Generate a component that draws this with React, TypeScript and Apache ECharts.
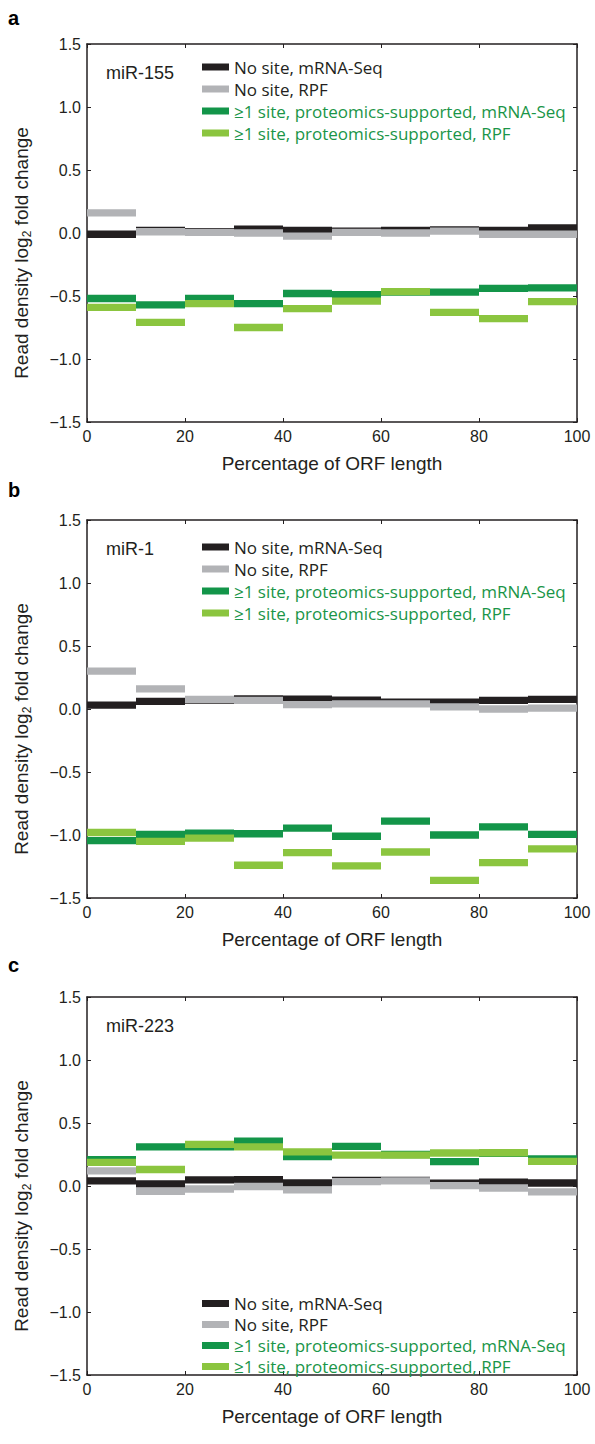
import React, { useEffect, useRef } from "react";
import * as echarts from "echarts";

// ---- data ----
const binStarts = [0, 10, 20, 30, 40, 50, 60, 70, 80, 90];
const binWidth = 10;
const seriesNames = [
  "No site, mRNA-Seq",
  "No site, RPF",
  "≥1 site, proteomics-supported, mRNA-Seq",
  "≥1 site, proteomics-supported, RPF",
];
const panelLetters = ["a", "b", "c"];
const panelMirnas = ["miR-155", "miR-1", "miR-223"];

const aNoSiteMrna = [-0.01, 0.02, 0.01, 0.03, 0.02, 0.015, 0.02, 0.025, 0.02, 0.04];
const aNoSiteRpf = [0.16, 0.01, 0.005, 0.0, -0.025, 0.005, 0.0, 0.015, -0.01, -0.01];
const aSiteMrna = [-0.52, -0.57, -0.52, -0.56, -0.48, -0.49, -0.47, -0.47, -0.44, -0.435];
const aSiteRpf = [-0.59, -0.71, -0.56, -0.75, -0.6, -0.54, -0.465, -0.63, -0.68, -0.545];

const bNoSiteMrna = [0.03, 0.06, 0.07, 0.08, 0.078, 0.07, 0.055, 0.055, 0.068, 0.076];
const bNoSiteRpf = [0.3, 0.16, 0.077, 0.068, 0.035, 0.04, 0.04, 0.017, 0.0, 0.007];
const bSiteMrna = [-1.045, -0.995, -0.985, -0.99, -0.945, -1.01, -0.89, -1.0, -0.935, -0.995];
const bSiteRpf = [-0.98, -1.05, -1.025, -1.24, -1.14, -1.245, -1.135, -1.36, -1.22, -1.11];

const cNoSiteMrna = [0.04, 0.017, 0.048, 0.05, 0.024, 0.045, 0.045, 0.022, 0.03, 0.024];
const cNoSiteRpf = [0.12, -0.043, -0.024, -0.004, -0.03, 0.035, 0.04, 0.003, -0.016, -0.047];
const cSiteMrna = [0.21, 0.31, 0.31, 0.356, 0.233, 0.314, 0.25, 0.194, 0.26, 0.215];
const cSiteRpf = [0.187, 0.131, 0.331, 0.31, 0.271, 0.245, 0.245, 0.262, 0.264, 0.196];

const panelData = [
  [aNoSiteMrna, aNoSiteRpf, aSiteMrna, aSiteRpf],
  [bNoSiteMrna, bNoSiteRpf, bSiteMrna, bSiteRpf],
  [cNoSiteMrna, cNoSiteRpf, cSiteMrna, cSiteRpf],
];

// ---- style ----
const colors = ["#231f20", "#b2b3b6", "#139549", "#8bc53f"];
const legendTextColors = ["#231f20", "#231f20", "#1a9548", "#1a9548"];
const axisColor = "#231f20";
const sans = "'Liberation Sans', Arial, sans-serif";
const legendFont = "'Open Sans', sans-serif";

const W = 595;
const H = 1444;
const gridLeft = 87;
const gridRight = 18;
const gridHeight = 378;
const gridTops = [44, 520, 997];
const legendTops = [58.5, 538.5, 1295];
const legendGaps = [5, 5, 4];
const letterTops = [8, 480, 955];
const yTitleOffset = 20;
const barThickness = 7.3;

function fmtY(v: number) {
  if (Math.abs(v) < 1e-9) return "0.0";
  return v < 0 ? "\u2212" + Math.abs(v).toFixed(1) : v.toFixed(1);
}

function buildOption() {
  const grid: any[] = [];
  const xAxis: any[] = [];
  const yAxis: any[] = [];
  const series: any[] = [];
  const legend: any[] = [];
  const graphic: any[] = [];

  gridTops.forEach((top, p) => {
    grid.push({ left: gridLeft, right: gridRight, top, height: gridHeight, containLabel: false });
    const common = {
      gridIndex: p,
      min: 0,
      max: 100,
      interval: 20,
      axisLine: { show: true, onZero: false, lineStyle: { color: axisColor, width: 1.5 } },
      axisTick: { show: true, inside: true, length: 4, lineStyle: { color: axisColor, width: 1 } },
      splitLine: { show: false },
    };
    xAxis.push({
      ...common,
      type: "value",
      position: "bottom",
      axisLabel: { show: true, fontFamily: sans, fontSize: 16, color: axisColor, margin: 6 },
      name: "Percentage of ORF length",
      nameLocation: "middle",
      nameGap: 32,
      nameTextStyle: { fontFamily: sans, fontSize: 19, color: axisColor },
    });
    xAxis.push({ ...common, type: "value", position: "top", axisLabel: { show: false } });
    const ycommon = {
      gridIndex: p,
      type: "value",
      min: -1.5,
      max: 1.5,
      interval: 0.5,
      axisLine: { show: true, onZero: false, lineStyle: { color: axisColor, width: 1.5 } },
      axisTick: { show: true, inside: true, length: 4, lineStyle: { color: axisColor, width: 1 } },
      splitLine: { show: false },
    };
    yAxis.push({
      ...ycommon,
      position: "left",
      axisLabel: { show: true, fontFamily: sans, fontSize: 16, color: axisColor, margin: 6, formatter: fmtY },
    });
    yAxis.push({ ...ycommon, position: "right", axisLabel: { show: false } });

    panelData[p].forEach((vals, s) => {
      series.push({
        type: "custom",
        name: seriesNames[s],
        xAxisIndex: p * 2,
        yAxisIndex: p * 2,
        itemStyle: { color: colors[s] },
        encode: { x: [0, 1], y: 2 },
        data: binStarts.map((x0, i) => [x0, x0 + binWidth, vals[i]]),
        renderItem: (params: any, api: any) => {
          const a = api.coord([api.value(0), api.value(2)]);
          const b = api.coord([api.value(1), api.value(2)]);
          return {
            type: "rect",
            shape: { x: a[0], y: a[1] - barThickness / 2, width: b[0] - a[0], height: barThickness },
            style: { fill: colors[s] },
          };
        },
        z: 2 + s,
      });
    });

    legend.push({
      orient: "vertical",
      left: 202,
      top: legendTops[p],
      padding: 0,
      itemGap: legendGaps[p],
      itemWidth: 27,
      itemHeight: 7,
      icon: "rect",
      selectedMode: false,
      textStyle: { fontFamily: legendFont, fontSize: 17, lineHeight: 16 },
      data: seriesNames.map((n, i) => ({ name: n, textStyle: { color: legendTextColors[i] } })),
    });

    graphic.push({
      type: "text",
      left: 8,
      top: letterTops[p],
      style: { text: panelLetters[p], font: `bold 20px ${sans}`, fill: "#000" },
    });
    graphic.push({
      type: "text",
      left: 106,
      top: top + 20,
      style: { text: panelMirnas[p], font: `18px ${sans}`, fill: axisColor },
    });
    graphic.push({
      type: "text",
      x: 21,
      y: top + gridHeight / 2 + yTitleOffset,
      rotation: Math.PI / 2,
      style: {
        text: "{a|Read density log}{s|2}{a| fold change}",
        align: "center",
        verticalAlign: "middle",
        rich: {
          a: { fontFamily: sans, fontSize: 19, fill: axisColor, color: axisColor, lineHeight: 24 },
          s: { fontFamily: sans, fontSize: 12, fill: axisColor, color: axisColor, lineHeight: 24, verticalAlign: "bottom", padding: [9, 0, 0, 0] },
        },
      },
    });
  });

  return {
    animation: false,
    backgroundColor: "#fff",
    grid,
    xAxis,
    yAxis,
    series,
    legend,
    graphic,
  };
}

export default function App() {
  const ref = useRef<HTMLDivElement>(null);
  useEffect(() => {
    if (!ref.current) return;
    const chart = echarts.init(ref.current, undefined, { renderer: "svg" });
    chart.setOption(buildOption() as any);
    return () => chart.dispose();
  }, []);
  return <div ref={ref} style={{ position: "fixed", left: 0, top: 0, width: W, height: H, background: "#fff" }} />;
}
